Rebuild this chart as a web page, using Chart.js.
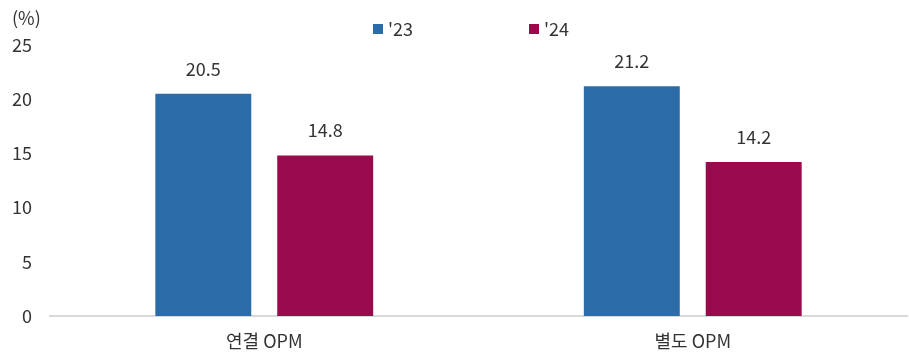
<!DOCTYPE html>
<html>
<head>
<meta charset="utf-8">
<script src="https://cdn.jsdelivr.net/npm/chart.js@4.4.1/dist/chart.umd.min.js"></script>
<style>
  html, body { margin: 0; padding: 0; background: #fff; }
  #wrap { width: 909px; height: 358px; position: relative; }
</style>
</head>
<body>
<div id="wrap"><canvas id="chart"></canvas></div>
<script>
const categories = ['연결 OPM', '별도 OPM'];
const seriesNames = ["'23", "'24"];
const values23 = [20.5, 21.2];
const values24 = [14.8, 14.2];
const yTicks = [0, 5, 10, 15, 20, 25];
const unitLabel = '(%)';

const FONT = "'Noto Sans CJK KR', 'Noto Sans', sans-serif";
const TEXT = '#333333';
const colors = ['#2B6BA7', '#990A4C'];

// value labels above bars + legend + unit text
const overlayPlugin = {
    id: 'overlay',
    afterDatasetsDraw(chart) {
        const ctx = chart.ctx;
        ctx.save();
        ctx.font = '18px ' + FONT;
        ctx.fillStyle = TEXT;
        ctx.textAlign = 'center';
        ctx.textBaseline = 'middle';
        chart.data.datasets.forEach((ds, i) => {
            chart.getDatasetMeta(i).data.forEach((bar, j) => {
                ctx.fillText(ds.data[j].toFixed(1), bar.x, bar.y - 25);
            });
        });

        // unit
        ctx.textAlign = 'left';
        ctx.fillText(unitLabel, 12, 18);

        // legend
        const legendX = [373, 529];
        chart.data.datasets.forEach((ds, i) => {
            ctx.fillStyle = ds.backgroundColor;
            ctx.fillRect(legendX[i], 24, 10, 10);
            ctx.fillStyle = TEXT;
            ctx.textAlign = 'left';
            ctx.fillText(ds.label, legendX[i] + 15, 29);
        });
        ctx.restore();
    }
};

new Chart(document.getElementById('chart'), {
    type: 'bar',
    data: {
        labels: categories,
        datasets: [
            { label: seriesNames[0], data: values23, backgroundColor: colors[0] },
            { label: seriesNames[1], data: values24, backgroundColor: colors[1] }
        ]
    },
    options: {
        responsive: true,
        maintainAspectRatio: false,
        animation: false,
        layout: { padding: { top: 45, right: 2, left: 0, bottom: 0 } },
        datasets: {
            bar: { categoryPercentage: 0.569, barPercentage: 0.787 }
        },
        plugins: {
            legend: { display: false },
            tooltip: { enabled: false }
        },
        scales: {
            x: {
                grid: { display: false, drawTicks: false },
                border: { display: true, color: '#d9d9d9', width: 2 },
                ticks: { color: TEXT, font: { family: FONT, size: 18 }, padding: 14 },
                afterFit(scale) { scale.height = 42; }
            },
            y: {
                min: 0,
                max: 25,
                grid: { display: false, drawTicks: false },
                border: { display: false },
                afterBuildTicks(scale) { scale.ticks = yTicks.map(v => ({ value: v })); },
                ticks: { color: TEXT, font: { family: FONT, size: 18 }, padding: 18 },
                afterFit(scale) { scale.width = 50; }
            }
        }
    },
    plugins: [overlayPlugin]
});
</script>
</body>
</html>
